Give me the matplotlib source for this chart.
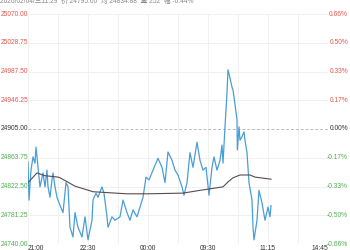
import matplotlib
matplotlib.use('Agg')
import matplotlib.pyplot as plt
import matplotlib.transforms as mtransforms

# trading minutes since 21:00 (night session open)
minutes = [0, 1.5, 4.5, 7.5, 10.5, 12, 13.5, 16.5, 18, 22.5, 25.5, 28.5, 30, 33, 36,
           37.5, 40.5, 43.5, 46.5, 52.5, 57, 60, 63, 67.5, 70.5, 75, 81, 85.5, 90, 96,
           97.5, 102, 105, 111, 114, 118.5, 120, 126, 130.5, 138, 142.5, 148.5, 153,
           157.5, 163.5, 168, 172.5, 177, 181.5, 187.5, 195, 201, 205.5, 210, 216,
           220.5, 225, 231, 234, 238.5, 243, 247.5, 253.5, 258, 262.5, 267, 271.5, 276,
           279, 283.5, 288, 291, 292.5, 295.5, 298.5, 300, 303, 306, 307.5, 309, 313.5,
           314, 316.5, 318, 321, 324, 325.5, 328.5, 331.5, 336, 337.5, 339, 343.5,
           346.5, 351, 355.5, 360, 363, 364.5]
price = [24858, 24803, 24846, 24865, 24856, 24879, 24865, 24836, 24822, 24842, 24822,
         24846, 24822, 24807, 24832, 24842, 24822, 24807, 24799, 24785, 24828, 24822,
         24764, 24750, 24785, 24764, 24750, 24779, 24746, 24774, 24803, 24813, 24807,
         24822, 24813, 24779, 24764, 24779, 24774, 24779, 24803, 24785, 24774, 24789,
         24779, 24793, 24807, 24836, 24832, 24846, 24863, 24850, 24828, 24872, 24860,
         24846, 24839, 24822, 24810, 24828, 24871, 24850, 24886, 24860, 24846, 24850,
         24810, 24850, 24865, 24846, 24860, 24882, 24856, 24908, 24957, 24990, 24978,
         24965, 24961, 24951, 24918, 24875, 24908, 24889, 24894, 24901, 24889, 24871,
         24828, 24803, 24764, 24746, 24774, 24817, 24799, 24774, 24793, 24779, 24795]

avg_minutes = [0, 13.5, 25.5, 45, 48, 70.5, 97.5, 148.5, 178.5, 232.5, 258, 292.5,
               300, 307.5, 318, 333, 340.5, 364.5]
avg_price = [24828, 24842, 24838, 24836, 24835, 24823, 24815, 24812, 24812, 24813,
             24817, 24822, 24829, 24835, 24839, 24839, 24836, 24833]

prev_close = 24905.00
price_levels = [25070.00, 25028.75, 24987.50, 24946.25, 24905.00,
                24863.75, 24822.50, 24781.25, 24740.00]
pct_labels = ['0.66%', '0.50%', '0.33%', '0.17%', '0.00%',
              '-0.17%', '-0.33%', '-0.50%', '-0.66%']
time_ticks = [0, 90, 180, 270, 360, 450]
time_labels = ['21:00', '22:30', '00:00', '09:30', '11:15', '14:45']
header = '2026/02/04/三11:29  价 24795.00  均 24834.88  量 252  幅 -0.44%'

RED = '#e2574f'
GREEN = '#4cae4c'
FONT = ['Liberation Sans', 'Noto Sans CJK SC', 'DejaVu Sans']

fig = plt.figure(figsize=(3.5, 2.5), dpi=100)
ax = fig.add_axes([28 / 350, 6 / 250, 300 / 350, 230 / 250])

ax.set_xlim(0, 450)
ax.set_ylim(price_levels[-1], price_levels[0])

# light grid
for v in range(0, 451, 45):
    ax.axvline(v, color='#eeeeee', lw=0.6, zorder=0)
for lvl in price_levels:
    if lvl == prev_close:
        ax.axhline(lvl, color='#bbbbbb', lw=0.7, ls=(0, (3, 2)), zorder=0)
    else:
        ax.axhline(lvl, color='#eeeeee', lw=0.6, zorder=0)

ax.plot(minutes, price, color='#4a9ed6', lw=0.9, zorder=3)
ax.plot(avg_minutes, avg_price, color='#5b4b4b', lw=0.8, zorder=4)

for s in ax.spines.values():
    s.set_visible(False)
ax.set_xticks([])
ax.set_yticks([])

# y labels on both sides
left_tr = mtransforms.blended_transform_factory(fig.transFigure, ax.transData)
for lvl, pct in zip(price_levels, pct_labels):
    if lvl > prev_close:
        c = RED
    elif lvl < prev_close:
        c = GREEN
    else:
        c = '#333333'
    fig.text(1 / 350, lvl, f'{lvl:.2f}', transform=left_tr, ha='left', va='center',
             fontsize=4.8, color=c, family=FONT)
    fig.text(348 / 350, lvl, pct, transform=left_tr, ha='right', va='center',
             fontsize=4.8, color=c, family=FONT)

# x labels
bot_tr = mtransforms.blended_transform_factory(ax.transData, fig.transFigure)
for i, (t, lab) in enumerate(zip(time_ticks, time_labels)):
    ha = 'left' if i == 0 else ('right' if i == len(time_ticks) - 1 else 'center')
    fig.text(t, 1.5 / 250, lab, transform=bot_tr, ha=ha, va='center',
             fontsize=4.8, color='#333333', family=FONT)

fig.text(0, 1 - 1.5 / 250, header, ha='left', va='center', fontsize=4.8,
         color='#888888', family=FONT)

fig.savefig('out.png', dpi=100)
